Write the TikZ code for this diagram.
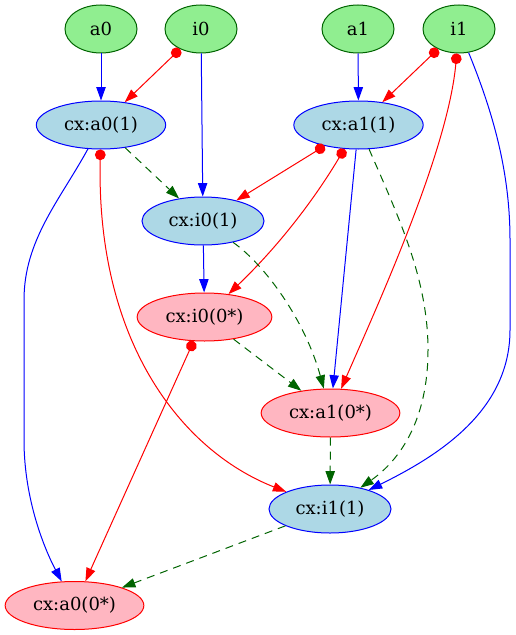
\documentclass[tikz,border=0pt]{standalone}
\usepackage{fontspec}
\setmainfont{DejaVu Serif}
\usetikzlibrary{shapes.geometric,arrows.meta}
\definecolor{lgreen}{HTML}{90EE90}
\definecolor{dgreen}{HTML}{006400}
\definecolor{lblue}{HTML}{ADD8E6}
\definecolor{lpink}{HTML}{FFB6C1}
\begin{document}
\begin{tikzpicture}[x=0.75pt,y=-0.75pt,
  basenode/.style={ellipse,inner sep=0pt,minimum height=36pt,line width=0.75pt,font=\fontsize{13.5}{16}\selectfont},
  srcnode/.style={basenode,draw=dgreen,fill=lgreen,minimum width=54pt},
  onenode/.style={basenode,draw=blue,fill=lblue},
  zeronode/.style={basenode,draw=red,fill=lpink},
  edgebase/.style={line width=0.75pt},
  posedge/.style={edgebase,blue,-{Triangle[length=10pt,width=7pt]}},
  negedge/.style={edgebase,red,{Circle[length=8pt]}-{Triangle[length=10pt,width=7pt]}},
  seqedge/.style={edgebase,dgreen,dash pattern=on 6pt off 4.5pt,-{Triangle[length=10pt,width=7pt]}},
]
\useasboundingbox[fill=white] (0,0) rectangle (516,635);
% nodes
\node[srcnode] (a0) at (101,29) {a0};
\node[srcnode] (i0) at (201,29) {i0};
\node[srcnode] (a1) at (358,29) {a1};
\node[srcnode] (i1) at (459,29) {i1};
\node[onenode,minimum width=97pt] (cxa01) at (101,125) {cx:a0(1)};
\node[onenode,minimum width=97pt] (cxa11) at (358.5,125) {cx:a1(1)};
\node[onenode,minimum width=91.5pt] (cxi01) at (203,221) {cx:i0(1)};
\node[zeronode,minimum width=101pt] (cxi00) at (204.5,317) {cx:i0(0*)};
\node[zeronode,minimum width=104pt] (cxa10) at (330.5,413) {cx:a1(0*)};
\node[onenode,minimum width=91.5pt] (cxi11) at (330,509) {cx:i1(1)};
\node[zeronode,minimum width=104pt] (cxa00) at (74.5,605.5) {cx:a0(0*)};
% edges
\draw[posedge] (a0) -- (cxa01);
\draw[negedge] (i0) -- (cxa01);
\draw[posedge] (i0) -- (cxi01);
\draw[seqedge] (cxa01) -- (cxi01);
\draw[posedge] (a1) -- (cxa11);
\draw[negedge] (i1) -- (cxa11);
\draw[negedge] (i1) .. controls (448,150) and (380,300) .. (cxa10);
\draw[posedge] (i1) .. controls (492,110) and (510,170) .. (510,240) -- (510,330) .. controls (510,410) and (440,455) .. (cxi11);
\draw[negedge] (cxa11) -- (cxi01);
\draw[negedge] (cxa11) .. controls (320,190) and (285,240) .. (cxi00);
\draw[posedge] (cxa11) -- (cxa10);
\draw[seqedge] (cxa11) .. controls (400,220) and (428,280) .. (428,350) .. controls (428,420) and (400,460) .. (cxi11);
\draw[posedge] (cxa01) .. controls (60,200) and (24,240) .. (24,300) -- (24,440) .. controls (24,500) and (45,550) .. (cxa00);
\draw[negedge] (cxa01) .. controls (96,340) and (180,450) .. (cxi11);
\draw[posedge] (cxi01) -- (cxi00);
\draw[seqedge] (cxi01) .. controls (265,265) and (305,320) .. (cxa10);
\draw[seqedge] (cxi00) -- (cxa10);
\draw[negedge] (cxi00) -- (cxa00);
\draw[seqedge] (cxa10) -- (cxi11);
\draw[seqedge] (cxi11) -- (cxa00);
\end{tikzpicture}
\end{document}
